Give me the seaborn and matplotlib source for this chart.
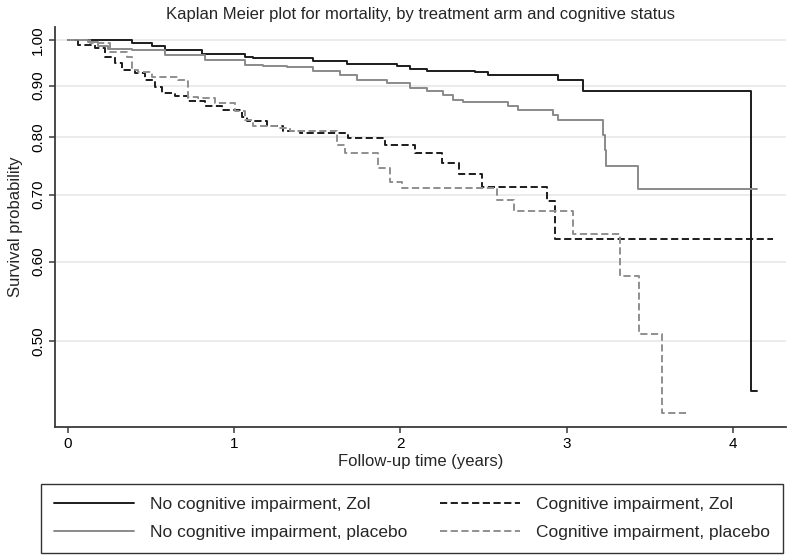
import numpy as np
import pandas as pd
import seaborn as sns
import matplotlib.pyplot as plt
from matplotlib.ticker import NullLocator

# === Data (time in years, survival) ===

groups = ["No cognitive impairment, Zol", "No cognitive impairment, placebo",
          "Cognitive impairment, Zol", "Cognitive impairment, placebo"]

t_nocog_zol = [0, 0.19, 0.385, 0.506, 0.584, 0.806, 1.065, 1.113, 1.474, 1.678,
               1.979, 2.057, 2.159, 2.448, 2.526, 2.947, 3.098, 4.108, 4.144]
s_nocog_zol = [1.0, 0.999, 0.992, 0.986, 0.976, 0.968, 0.962, 0.959, 0.953, 0.946,
               0.942, 0.935, 0.931, 0.928, 0.923, 0.912, 0.889, 0.445, 0.445]

t_nocog_plc = [0, 0.120, 0.181, 0.241, 0.385, 0.584, 0.824, 1.065, 1.173, 1.317,
               1.474, 1.636, 1.738, 1.919, 2.057, 2.159, 2.256, 2.316, 2.376, 2.647,
               2.707, 2.917, 2.947, 3.218, 3.230, 3.236, 3.429, 4.144]
s_nocog_plc = [1.0, 0.994, 0.985, 0.979, 0.977, 0.966, 0.955, 0.944, 0.942, 0.939,
               0.930, 0.923, 0.912, 0.905, 0.895, 0.888, 0.881, 0.871, 0.866, 0.859,
               0.851, 0.841, 0.832, 0.804, 0.776, 0.747, 0.709, 0.709]

t_cog_zol = [0, 0.060, 0.162, 0.223, 0.283, 0.325, 0.403, 0.463, 0.523, 0.565,
             0.644, 0.722, 0.824, 0.926, 1.047, 1.077, 1.197, 1.293, 1.398, 1.684,
             1.907, 2.087, 2.250, 2.352, 2.490, 2.881, 2.929, 4.241]
s_cog_zol = [1.0, 0.989, 0.981, 0.962, 0.948, 0.933, 0.926, 0.912, 0.898, 0.885,
             0.878, 0.868, 0.859, 0.851, 0.838, 0.829, 0.820, 0.810, 0.807, 0.797,
             0.785, 0.770, 0.753, 0.734, 0.712, 0.690, 0.632, 0.632]

t_cog_plc = [0, 0.132, 0.253, 0.355, 0.385, 0.421, 0.505, 0.662, 0.722, 0.782,
             0.884, 1.005, 1.065, 1.113, 1.257, 1.335, 1.618, 1.666, 1.865, 1.937,
             2.009, 2.580, 2.683, 3.038, 3.320, 3.435, 3.573, 3.723]
s_cog_plc = [1.0, 0.992, 0.973, 0.962, 0.933, 0.928, 0.919, 0.912, 0.877, 0.874,
             0.864, 0.848, 0.832, 0.820, 0.816, 0.810, 0.785, 0.771, 0.744, 0.721,
             0.711, 0.692, 0.674, 0.639, 0.580, 0.508, 0.423, 0.423]

y_ticks = [0.5, 0.6, 0.7, 0.8, 0.9, 1.0]
y_tick_labels = ["0.50", "0.60", "0.70", "0.80", "0.90", "1.00"]
x_ticks = [0, 1, 2, 3, 4]

# === Build long table ===

frames = []
for g, t, s in zip(groups,
                   [t_nocog_zol, t_nocog_plc, t_cog_zol, t_cog_plc],
                   [s_nocog_zol, s_nocog_plc, s_cog_zol, s_cog_plc]):
    frames.append(pd.DataFrame({"time": t, "surv": s, "group": g}))
df = pd.concat(frames, ignore_index=True)

palette = {groups[0]: "#1c1c1c", groups[1]: "#8a8a8a",
           groups[2]: "#1c1c1c", groups[3]: "#8f8f8f"}
dashes = {groups[0]: "", groups[1]: "", groups[2]: (3.7, 1.8), groups[3]: (3.7, 1.8)}

# === Plot ===

sns.set_style("white")
plt.rcParams["font.family"] = ["Liberation Sans", "DejaVu Sans"]

fig = plt.figure(figsize=(7.98, 5.6), dpi=100)
ax = fig.add_axes([55 / 798, 1 - 427 / 560, (786 - 55) / 798, (427 - 27) / 560])

sns.lineplot(data=df, x="time", y="surv", hue="group", style="group",
             hue_order=groups, style_order=groups, palette=palette, dashes=dashes,
             estimator=None, sort=True, drawstyle="steps-post", linewidth=1.4, ax=ax)

ax.set_yscale("log")
ax.set_ylim(0.410, 1.030)
ax.set_xlim(-0.078, 4.319)
ax.set_yticks(y_ticks)
ax.set_yticklabels(y_tick_labels)
ax.yaxis.set_minor_locator(NullLocator())
ax.set_xticks(x_ticks)

ax.yaxis.grid(True, color="#e9e9e9", linewidth=1.3)
ax.xaxis.grid(False)
ax.set_axisbelow(True)

for side in ["top", "right"]:
    ax.spines[side].set_visible(False)
for side in ["left", "bottom"]:
    ax.spines[side].set_color("#3a3a3a")
    ax.spines[side].set_linewidth(1.3)

ax.tick_params(axis="both", direction="out", length=4, width=1.1, color="#3a3a3a",
               labelsize=11, labelcolor="black", bottom=True, left=True)
ax.tick_params(axis="y", labelrotation=90, pad=3)
for lab in ax.get_yticklabels():
    lab.set_va("center")

ax.set_xlabel("Follow-up time (years)", fontsize=12, labelpad=2)
ax.set_ylabel("Survival probability", fontsize=12, labelpad=6)
ax.set_title("Kaplan Meier plot for mortality, by treatment arm and cognitive status",
             fontsize=12, pad=6)

handles, labels = ax.get_legend_handles_labels()
ax.get_legend().remove()
leg = fig.legend(handles, labels, ncol=2, loc="lower left", mode="expand",
                 bbox_to_anchor=(41 / 798, 7 / 560, 742 / 798, 65 / 560),
                 fontsize=12.5, frameon=True, fancybox=False, edgecolor="black",
                 handlelength=4.6, handletextpad=0.9, borderpad=0.75,
                 labelspacing=0.75, borderaxespad=0)
leg.get_frame().set_linewidth(1.0)
for line in leg.get_lines():
    line.set_linewidth(1.4)

fig.savefig("out.png", dpi=100)
